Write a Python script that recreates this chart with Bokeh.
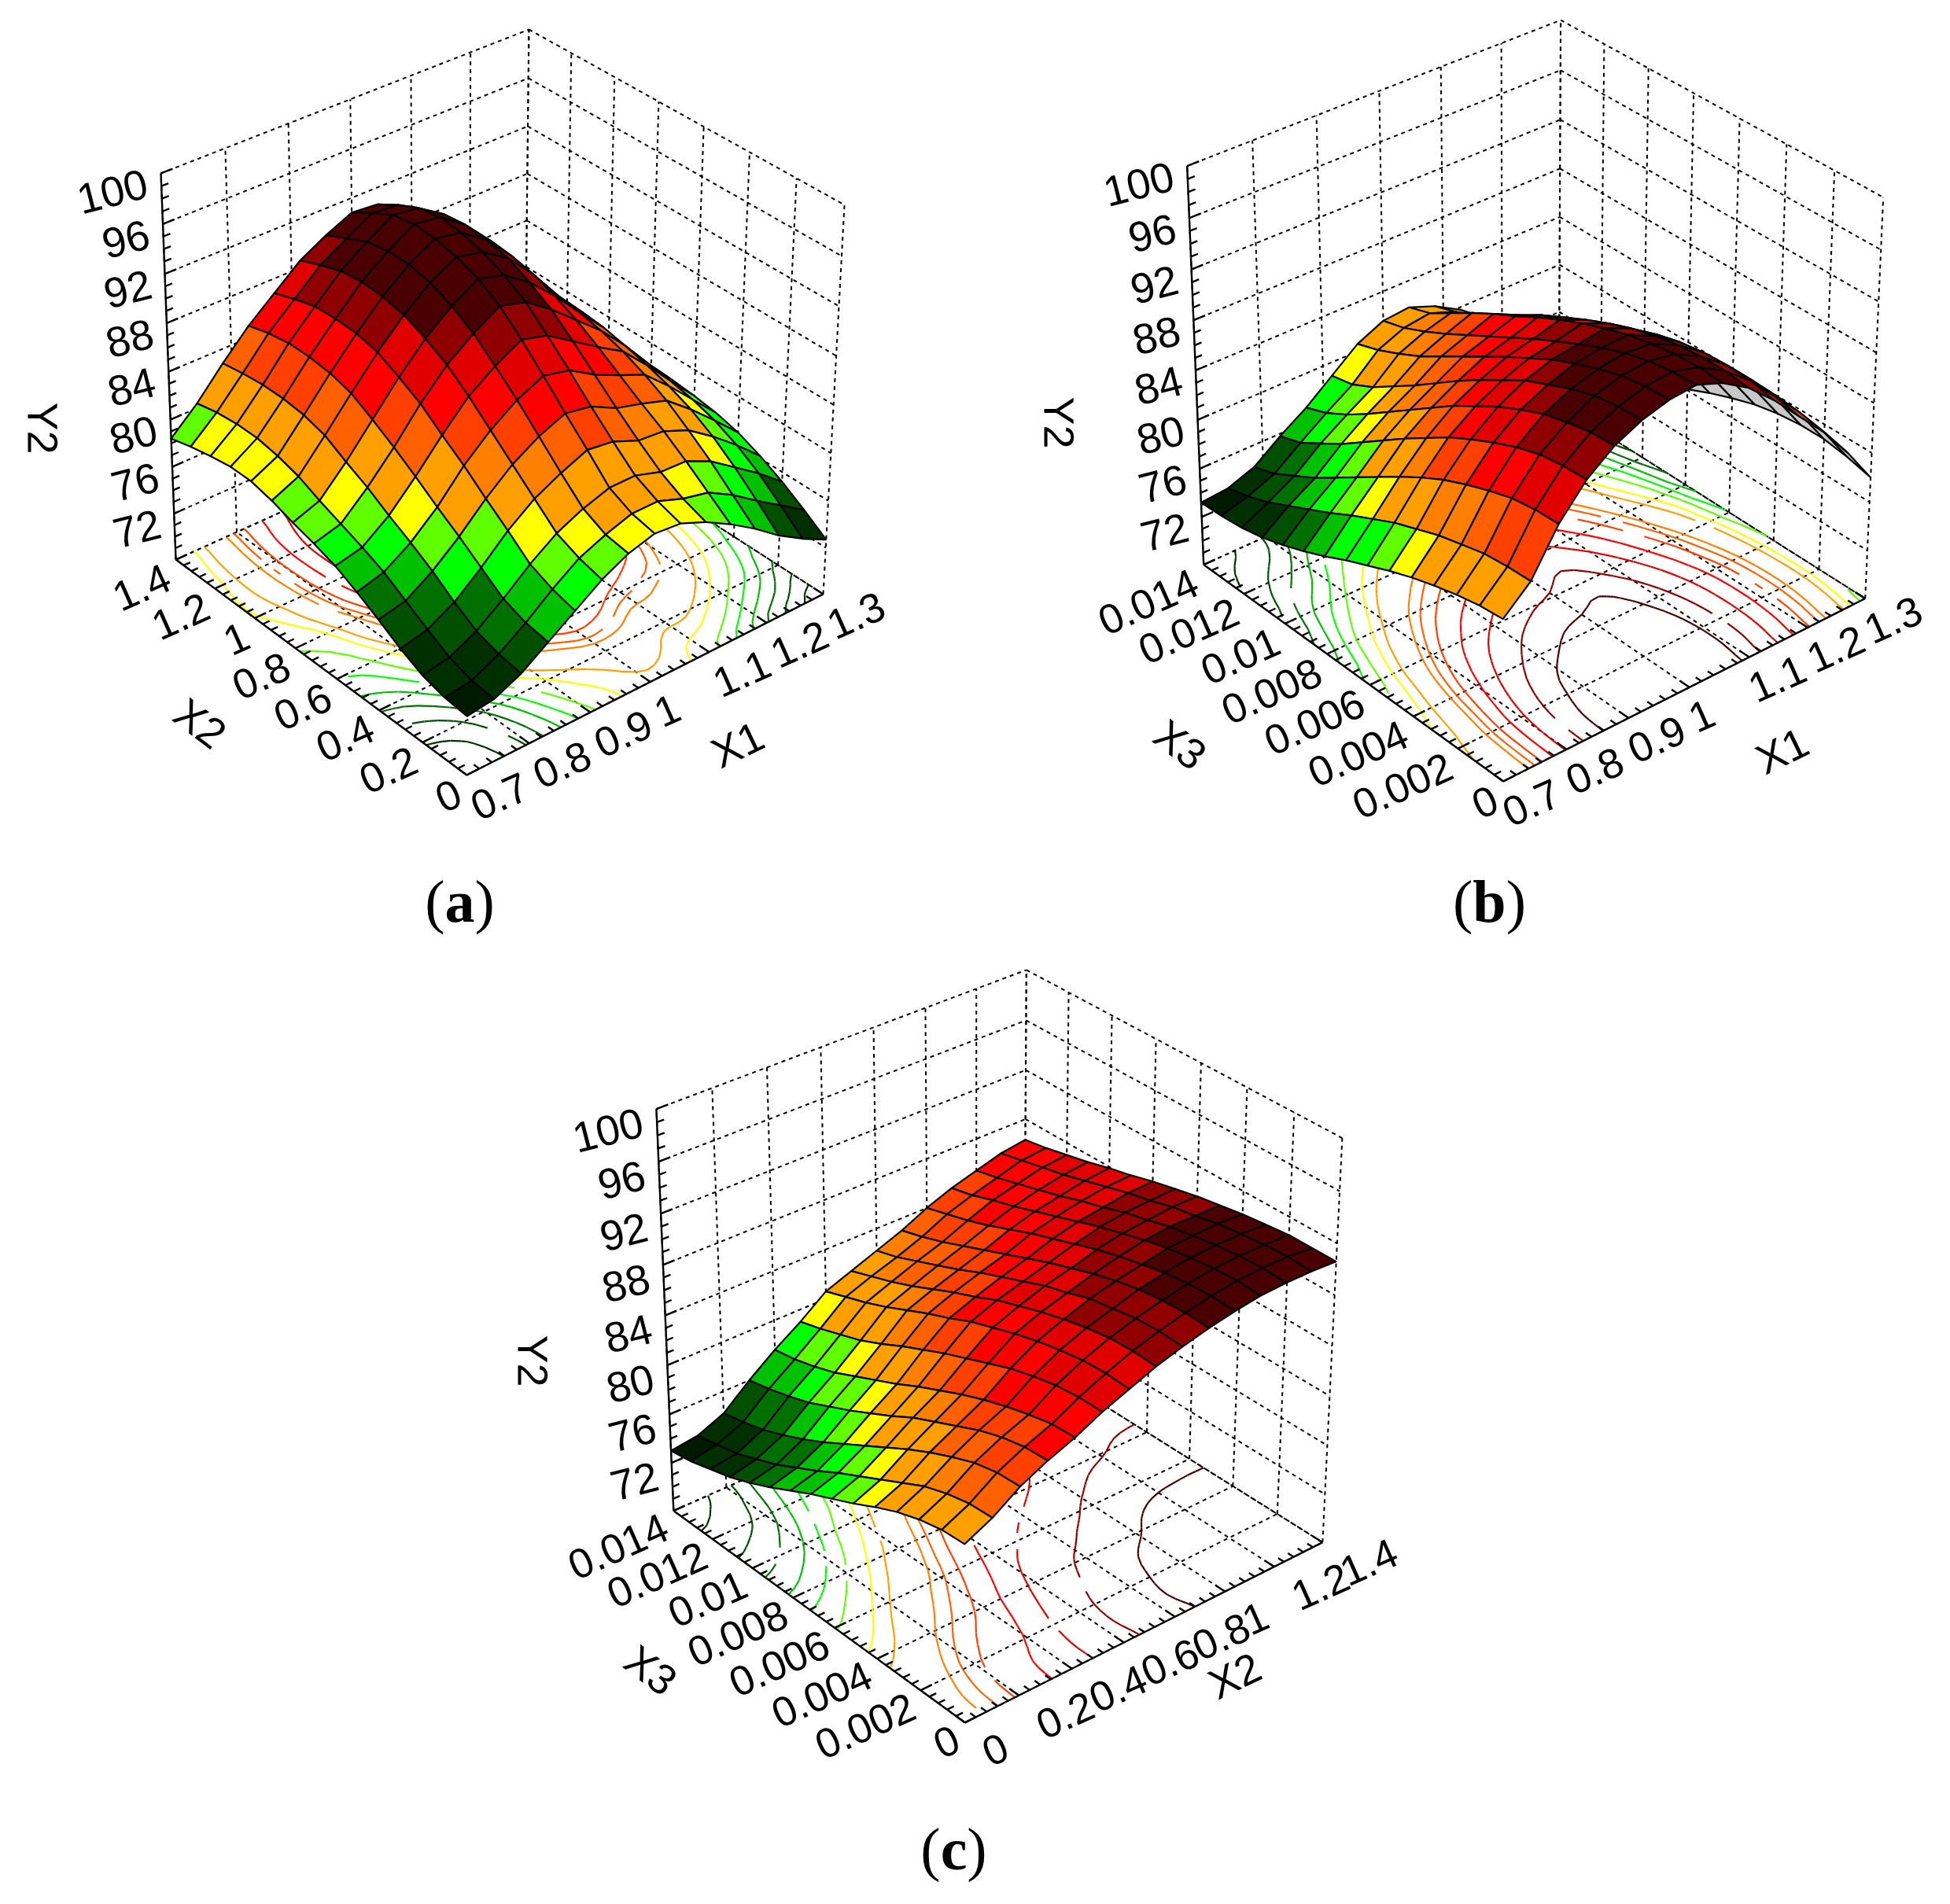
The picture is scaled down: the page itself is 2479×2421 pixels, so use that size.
import numpy as np
from bokeh.plotting import figure
from bokeh.embed import file_html
from bokeh.resources import INLINE
from bokeh.core.properties import value
from bokeh.models import Range1d

# ---- data: rows = first X axis, columns = second X axis
Y2_a = [
[72.9,73.1,73.6,74.5,75.6,76.6,77.5,78.1,78.6,79.2,79.6,79.6,79.3,78.9,78.4],
[73.2,73.4,74.0,75.0,76.1,77.2,78.0,78.7,79.4,80.2,80.7,81.0,81.0,80.8,80.4],
[74.2,74.5,75.1,76.2,77.5,78.6,79.6,80.7,81.6,82.6,83.1,83.3,83.3,83.1,82.8],
[75.7,76.0,76.7,78.0,79.3,80.5,81.8,83.0,84.1,85.1,85.6,85.8,85.8,85.5,85.0],
[77.2,77.7,78.5,80.0,81.4,82.9,84.2,85.6,86.6,87.5,87.9,88.0,87.9,87.4,86.8],
[78.7,79.2,80.0,81.6,83.2,84.8,86.4,87.8,88.8,89.6,90.0,90.1,89.9,89.3,88.6],
[79.8,80.1,81.0,82.7,84.5,86.3,87.9,89.4,90.5,91.3,91.7,91.7,91.4,90.6,89.8],
[80.4,80.8,81.7,83.6,85.4,87.3,89.1,90.7,91.8,92.5,92.9,93.0,92.7,91.8,90.8],
[80.2,80.8,81.7,83.3,85.0,86.8,88.5,90.1,91.2,92.0,92.5,92.7,92.4,91.6,90.6],
[79.3,80.0,81.0,82.4,83.9,85.5,87.1,88.6,89.7,90.6,91.0,91.2,91.0,90.3,89.5],
[78.1,79.5,80.9,82.2,83.3,84.5,85.7,86.8,87.7,88.4,88.8,89.0,88.9,88.3,87.4],
[76.7,78.3,79.9,81.3,82.6,83.6,84.4,85.0,85.4,85.7,85.9,86.0,85.9,85.4,84.6],
[75.1,76.8,78.4,79.8,80.9,81.7,82.3,82.8,83.2,83.4,83.5,83.4,83.3,82.8,82.1],
[73.8,75.4,76.9,78.1,79.0,79.6,80.0,80.3,80.5,80.6,80.6,80.5,80.3,79.9,79.3],
[72.7,74.0,75.2,76.2,77.0,77.5,77.8,78.0,78.1,78.2,78.2,78.1,77.9,77.5,77.0],
]
Y2_b = [
[80.9,80.7,80.3,79.8,79.2,78.5,77.7,76.9,76.0,75.2,74.5,73.9,73.5,73.3,73.2],
[82.8,82.7,82.5,82.0,81.5,80.8,80.1,79.2,78.3,77.3,76.4,75.5,74.6,73.9,73.4],
[86.2,86.1,85.8,85.2,84.5,83.7,82.7,81.6,80.4,79.2,78.0,76.8,75.8,74.8,74.2],
[88.6,88.5,88.2,87.6,86.8,85.9,84.9,83.7,82.5,81.2,79.9,78.6,77.5,76.4,75.8],
[90.2,90.1,89.7,89.2,88.4,87.5,86.4,85.3,84.0,82.7,81.4,80.1,78.9,77.9,77.2],
[91.2,91.1,90.8,90.2,89.4,88.6,87.5,86.4,85.2,83.9,82.6,81.4,80.2,79.3,78.9],
[91.8,91.7,91.4,90.8,90.1,89.3,88.3,87.3,86.2,85.1,84.0,82.9,82.0,81.2,80.6],
[92.0,91.9,91.6,91.1,90.4,89.6,88.7,87.8,86.8,85.8,84.8,83.8,82.9,82.1,81.6],
[91.2,91.3,91.2,90.9,90.5,89.9,89.2,88.4,87.5,86.5,85.6,84.6,83.5,82.4,81.8],
[89.9,90.1,90.1,89.9,89.5,89.0,88.3,87.5,86.6,85.7,84.6,83.5,82.4,81.6,81.0],
[88.0,88.4,88.5,88.4,88.1,87.6,86.9,86.1,85.2,84.2,83.1,82.0,81.0,80.3,79.8],
[85.8,86.2,86.4,86.4,86.2,85.7,85.0,84.2,83.3,82.3,81.2,80.2,79.3,78.6,78.2],
[83.6,84.0,84.2,84.2,84.0,83.5,82.9,82.1,81.2,80.2,79.3,78.5,77.8,77.3,77.0],
[81.0,81.5,81.8,81.8,81.6,81.2,80.6,79.9,79.0,78.1,77.3,76.6,76.0,75.5,75.1],
[78.0,78.5,78.8,78.8,78.6,78.2,77.6,76.9,76.1,75.4,74.8,74.2,73.8,73.5,73.3],
]
Y2_c = [
[82.0,81.9,81.5,80.9,80.1,79.2,78.4,77.6,76.7,75.8,75.0,74.3,73.8,73.3,73.0],
[83.0,82.9,82.5,81.9,81.0,80.1,79.2,78.3,77.3,76.4,75.5,74.8,74.1,73.7,73.3],
[84.4,84.3,83.9,83.2,82.4,81.5,80.5,79.5,78.5,77.5,76.6,75.8,75.1,74.6,74.2],
[85.4,85.3,84.9,84.3,83.5,82.7,81.9,80.9,80.0,79.1,78.3,77.5,76.9,76.4,76.0],
[86.2,86.1,85.7,85.2,84.6,83.9,83.1,82.3,81.4,80.6,79.8,79.0,78.4,77.9,77.6],
[87.2,87.2,87.0,86.6,86.1,85.4,84.7,84.0,83.2,82.4,81.5,80.7,80.1,79.5,79.0],
[88.0,88.1,88.0,87.7,87.3,86.8,86.2,85.6,84.8,84.1,83.3,82.5,81.8,81.2,80.6],
[88.8,88.9,88.8,88.5,88.1,87.6,87.0,86.4,85.6,84.9,84.1,83.3,82.6,82.0,81.4],
[89.4,89.5,89.4,89.1,88.8,88.2,87.7,87.0,86.3,85.6,84.8,84.1,83.4,82.7,82.2],
[89.9,90.0,89.9,89.7,89.3,88.8,88.2,87.6,86.9,86.2,85.5,84.8,84.1,83.5,83.0],
[90.3,90.4,90.3,90.1,89.7,89.3,88.8,88.2,87.6,87.0,86.3,85.6,85.0,84.5,84.0],
[90.6,90.7,90.6,90.4,90.1,89.7,89.2,88.7,88.1,87.5,86.9,86.3,85.8,85.2,84.8],
[90.7,90.8,90.7,90.5,90.2,89.9,89.4,89.0,88.4,87.9,87.3,86.8,86.3,85.8,85.4],
[90.7,90.8,90.7,90.5,90.3,89.9,89.6,89.1,88.7,88.2,87.7,87.2,86.8,86.4,86.0],
[90.6,90.6,90.6,90.4,90.2,89.9,89.6,89.2,88.8,88.3,87.9,87.4,87.0,86.6,86.3],
]
X1_ticks = ["0.7","0.8","0.9","1","1.1","1.2","1.3"]
X2_ticks = ["0","0.2","0.4","0.6","0.8","1","1.2","1.4"]
X3_ticks = ["0","0.002","0.004","0.006","0.008","0.01","0.012","0.014"]
Y2_ticks = ["72","76","80","84","88","92","96","100"]
Y2_floor, Y2_top = 68.0, 100.0
band_limits = [73.5,74.5,75.5,76.5,77.5,78.5,79.7,80.6,82.6,83.3,84.2,85.6,87.0,88.5,89.8]
band_colors = ["#001a00","#003000","#005000","#007000","#00c000","#00ff00","#60ff00","#ffff00",
               "#ffa000","#ff8000","#ff6000","#ff4000","#ff0000","#e00000","#900000","#4a0000"]

FONT = "Liberation Sans"
W, H = 2463, 2405
p = figure(width=W, height=H, output_backend="svg", toolbar_location=None,
           x_range=Range1d(8, 8+W), y_range=Range1d(8+H, 8), min_border=0)
p.axis.visible = False
p.grid.visible = False
p.outline_line_color = None


def camera(c):
    pts = [((0,0,0),c["front"]),((0,1,0),c["left"]),((1,0,0),c["right"]),
           ((0,1,1),c["top_left"]),((1,1,1),c["top_back"]),((1,0,1),c["top_right"])]
    A = []
    for (s,t,w),(x,y) in pts:
        x, y = x/1000.0, y/1000.0
        A.append([s,t,w,1,0,0,0,0,-x*s,-x*t,-x*w,-x])
        A.append([0,0,0,0,s,t,w,1,-y*s,-y*t,-y*w,-y])
    M = np.linalg.svd(np.array(A))[2][-1].reshape(3,4)
    def proj(s,t,w):
        q = M @ np.array([s,t,w,1.0])
        return q[0]/q[2]*1000.0, q[1]/q[2]*1000.0
    return proj


def band(v):
    return band_colors[int(np.searchsorted(band_limits, v))]


def smooth_axis(Z, k):
    n = Z.shape[0]
    out = []
    for q in range((n-1)*k+1):
        i = min(q//k, n-2)
        f = q/k - i
        a, b, c, d = Z[max(i-1,0)], Z[i], Z[i+1], Z[min(i+2,n-1)]
        out.append(b + 0.5*f*(c-a + f*(2*a-5*b+4*c-d + f*(3*(b-c)+d-a))))
    return np.array(out)


def contour_segments(Z, level):
    n, m = Z.shape
    segs = []
    for i in range(n-1):
        for j in range(m-1):
            c = [(i,j),(i+1,j),(i+1,j+1),(i,j+1)]
            cr = []
            for k in range(4):
                a, b = c[k], c[(k+1)%4]
                za, zb = Z[a], Z[b]
                if (za-level)*(zb-level) < 0:
                    f = (level-za)/(zb-za)
                    cr.append((a[0]+f*(b[0]-a[0]), a[1]+f*(b[1]-a[1])))
            for k in range(0, len(cr)-1, 2):
                segs.append((cr[k], cr[k+1]))
    return segs


def panel(Z, ci, cj, i_ticks, j_ticks, i_name, j_name, tag, gray):
    Z = np.array(Z)
    n, m = Z.shape
    P = camera(ci)
    zs = lambda v: (v-Y2_floor)/(Y2_top-Y2_floor)
    ks = [k/(len(i_ticks)-1) for k in range(len(i_ticks))]
    kt = [k/(len(j_ticks)-1) for k in range(len(j_ticks))]
    kw = [zs(float(v)) for v in Y2_ticks]
    # dashed walls and floor
    dx, dy = [], []
    def seg(a, b):
        xa, ya = P(*a); xb, yb = P(*b)
        dx.append([xa,xb]); dy.append([ya,yb])
    for w in [0.0]+kw:
        seg((0,1,w),(1,1,w)); seg((1,1,w),(1,0,w))
    for s in ks:
        seg((s,1,0),(s,1,1)); seg((s,0,0),(s,1,0))
    for t in kt:
        seg((1,t,0),(1,t,1)); seg((0,t,0),(1,t,0))
    p.multi_line(dx, dy, line_color="black", line_width=2.0, line_dash="5 5")
    # floor contours
    fine = smooth_axis(smooth_axis(Z, 3).T, 3).T
    N, M = fine.shape
    cx, cy, cc = [], [], []
    for lv, col in zip(band_limits, band_colors[1:]):
        for a, b in contour_segments(fine, lv):
            xa, ya = P(a[0]/(N-1), a[1]/(M-1), 0); xb, yb = P(b[0]/(N-1), b[1]/(M-1), 0)
            cx.append([xa,xb]); cy.append([ya,yb]); cc.append(col)
    p.multi_line(cx, cy, line_color=cc, line_width=2.2)
    # solid axes with their ticks
    ax, ay = [], []
    def sol(a, b):
        xa, ya = P(*a); xb, yb = P(*b)
        ax.append([xa,xb]); ay.append([ya,yb])
    sol((0,0,0),(0,1,0)); sol((0,0,0),(1,0,0)); sol((0,1,0),(0,1,1))
    for q in range(5*(len(j_ticks)-1)+1):
        t = q/(5*(len(j_ticks)-1))
        sol((0,t,0),(0.03 if q%5==0 else 0.018,t,0))
    for q in range(5*(len(i_ticks)-1)+1):
        s = q/(5*(len(i_ticks)-1))
        sol((s,0,0),(s,0.03 if q%5==0 else 0.018,0))
    for q in range(int(Y2_top-Y2_floor)+1):
        w = q/(Y2_top-Y2_floor)
        sol((0,1,w),(0.03 if q%4==0 else 0.018,1,w))
    p.multi_line(ax, ay, line_color="black", line_width=2.4)
    # surface, far cells first
    xs, ys, fc = [], [], []
    for i in range(n-2,-1,-1):
        for j in range(m-2,-1,-1):
            c = [(i,j),(i+1,j),(i+1,j+1),(i,j+1)]
            q = [P(a/(n-1), b/(m-1), zs(Z[a,b])) for a,b in c]
            f = [P(a/(n-1), b/(m-1), 0) for a,b in c]
            def area(r):
                return sum(r[k][0]*r[(k+1)%4][1]-r[(k+1)%4][0]*r[k][1] for k in range(4))
            col = band(float(np.mean([Z[a,b] for a,b in c])))
            if gray and area(q)*area(f) < 0:
                col = "#c8c8c8"
            xs.append([u[0] for u in q]); ys.append([u[1] for u in q]); fc.append(col)
    p.patches(xs, ys, fill_color=fc, line_color="black", line_width=2.2)
    # tick labels
    def texts(rows, **kw_):
        p.text([r[0] for r in rows],[r[1] for r in rows],text=[r[2] for r in rows],
               text_font=value(FONT), text_color="black", **kw_)
    ox, oy = ci["i_off"]
    rows = [(P(s,0,0)[0]+ox, P(s,0,0)[1]+oy, l) for s,l in zip(ks,i_ticks)]
    texts(rows, text_font_size="53px", text_align="left", text_baseline="middle", angle=0.42)
    ox, oy = ci["j_off"]
    rows = [(P(0,t,0)[0]+ox, P(0,t,0)[1]+oy, l) for t,l in zip(kt,j_ticks)]
    texts(rows, text_font_size="53px", text_align="right", text_baseline="middle", angle=0.42)
    ox, oy = ci["z_off"]
    rows = [(P(0,1,w)[0]+ox, P(0,1,w)[1]+oy, l) for w,l in zip(kw,Y2_ticks)]
    texts(rows, text_font_size="54px", text_align="right", text_baseline="middle", angle=0.25)
    # axis titles
    for (x,y),txt,ang in [(cj["y2"],"Y2",-1.57),(cj["jt"],j_name,-0.65),(cj["it"],i_name,0.45)]:
        p.text([x],[y],text=[txt],text_font=value(FONT),text_font_size="54px",text_color="black",
               text_align="center",text_baseline="middle",angle=ang)
    # panel tag
    x, y = cj["tag"]
    fs = 76
    wid = {"a":0.5,"b":0.556,"c":0.444}[tag]*fs
    left = x-wid/2
    p.text([left],[y],text=["("],text_font=value("Liberation Serif"),text_font_size=f"{fs}px",
           text_align="right",text_baseline="middle",text_color="black")
    p.text([left],[y],text=[tag],text_font=value("Liberation Serif"),text_font_style="bold",
           text_font_size=f"{fs}px",text_align="left",text_baseline="middle",text_color="black")
    p.text([left+wid],[y],text=[")"],text_font=value("Liberation Serif"),text_font_size=f"{fs}px",
           text_align="left",text_baseline="middle",text_color="black")


cam_a = dict(front=(601,993),left=(231,719),right=(1054,763),top_left=(212,228),
             top_back=(680,45),top_right=(1081,268),i_off=(8,42),j_off=(-10,20),z_off=(-18,12))
lay_a = dict(y2=(62,552),jt=(262,927),it=(945,954),tag=(592,1153))
cam_b = dict(front=(1918,1001),left=(1538,726),right=(2379,768),top_left=(1517,218),
             top_back=(1991,33),top_right=(2402,259),i_off=(2,42),j_off=(-10,20),z_off=(-18,12))
lay_b = dict(y2=(1354,545),jt=(1508,954),it=(2273,962),tag=(1901,1153))
cam_c = dict(front=(1236,2198),left=(863,1927),right=(1688,1970),top_left=(841,1419),
             top_back=(1314,1241),top_right=(1713,1453),i_off=(25,40),j_off=(-10,18),z_off=(-18,16))
lay_c = dict(y2=(685,1738),jt=(835,2131),it=(1577,2138),tag=(1220,2358))

panel(Y2_a, cam_a, lay_a, X1_ticks, X2_ticks, "X1", "X2", "a", False)
panel(Y2_b, cam_b, lay_b, X1_ticks, X3_ticks, "X1", "X3", "b", True)
panel(Y2_c, cam_c, lay_c, X2_ticks, X3_ticks, "X2", "X3", "c", False)

open("out.html", "w").write(file_html(p, INLINE))
